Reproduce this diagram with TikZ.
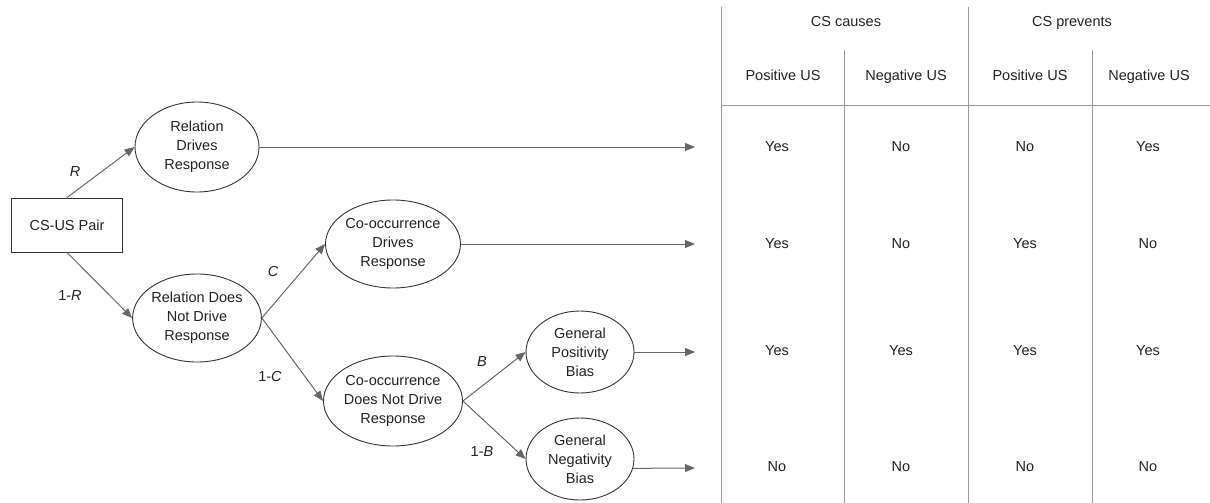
\documentclass[tikz,border=0pt]{standalone}
\usepackage{fontspec}
\setmainfont{Liberation Sans}
\usetikzlibrary{shapes.geometric,arrows.meta}
\definecolor{edgegray}{HTML}{666666}
\definecolor{rimgray}{HTML}{333333}
\definecolor{gridgray}{HTML}{999999}
\definecolor{inkgray}{HTML}{222222}
\newcommand{\txtsize}{\fontsize{14.5}{19}\selectfont}
\tikzset{
    state/.style={ellipse, draw=rimgray, line width=0.9pt, inner sep=0pt,
        align=center, text=inkgray},
    branch/.style={edgegray, line width=1pt, -{Triangle[length=10pt,width=8pt]}},
    prob/.style={text=inkgray, font=\txtsize\itshape},
    cell/.style={text=inkgray, text height=11pt, text depth=3pt}
}
\begin{document}
\begin{tikzpicture}[x=1pt, y=-1pt, font=\txtsize]
    \useasboundingbox (0,0) rectangle (1210,503);
    % tree
    \node[draw=rimgray, line width=0.9pt, minimum width=111pt, minimum height=54pt,
        inner sep=0pt, text=inkgray] (pair) at (67,225) {CS-US Pair};
    \node[state, minimum width=124pt, minimum height=90pt] (rdr) at (197,147)
        {Relation\\Drives\\Response};
    \node[state, minimum width=125pt, minimum height=88pt] (rdnd) at (197,318)
        {Relation Does\\Not Drive\\Response};
    \node[state, minimum width=135pt, minimum height=88pt] (cdr) at (393,244)
        {Co-occurrence\\Drives\\Response};
    \node[state, minimum width=135pt, minimum height=90pt] (cdnd) at (393,401)
        {Co-occurrence\\Does Not Drive\\Response};
    \node[state, minimum width=108pt, minimum height=82pt] (gpb) at (580,352)
        {General\\Positivity\\Bias};
    \node[state, minimum width=108pt, minimum height=82pt] (gnb) at (580,459)
        {General\\Negativity\\Bias};
    % arrow ends at the table
    \coordinate (e1) at (695,147);
    \coordinate (e2) at (695,244);
    \coordinate (e3) at (695,352);
    \coordinate (e4) at (695,468);
    \draw[branch] (pair.north) -- (rdr.west);
    \draw[branch] (pair.south) -- (rdnd.west);
    \draw[branch] (rdnd.east) -- (cdr.west);
    \draw[branch] (rdnd.east) -- (cdnd.west);
    \draw[branch] (cdnd.east) -- (gpb.west);
    \draw[branch] (cdnd.east) -- (gnb.west);
    \draw[branch] (rdr.east) -- (e1);
    \draw[branch] (cdr.east) -- (e2);
    \draw[branch] (gpb.east) -- (e3);
    \draw[branch] (gnb.-10) -- (e4);
    \node[prob] (lr) at (75,172) {R};
    \node[prob] (lnr) at (70,296) {\upshape 1-\itshape R};
    \node[prob] (lc) at (273,272) {C};
    \node[prob] (lnc) at (270,377) {\upshape 1-\itshape C};
    \node[prob] (lb) at (482,362) {B};
    \node[prob] (lnb) at (482,452) {\upshape 1-\itshape B};
    % table
    \draw[gridgray, line width=1pt] (721,7) -- (721,503);
    \draw[gridgray, line width=1pt] (968,7) -- (968,503);
    \draw[gridgray, line width=1pt] (844,50) -- (844,503);
    \draw[gridgray, line width=1pt] (1092,50) -- (1092,503);
    \draw[gridgray, line width=1pt] (721,105) -- (1210,105);
    \node[cell] (hc) at (846,23) {CS causes};
    \node[cell] (hp) at (1072,23) {CS prevents};
    \foreach \x/\t in {783/Positive US, 906/Negative US, 1030/Positive US, 1149/Negative US}
        \node[cell] at (\x,77) {\t};
    \foreach \y/\a/\b/\c/\d in {147/Yes/No/No/Yes, 244/Yes/No/Yes/No,
            351/Yes/Yes/Yes/Yes, 467/No/No/No/No} {
        \node[cell] at (777,\y) {\a};
        \node[cell] at (901,\y) {\b};
        \node[cell] at (1025,\y) {\c};
        \node[cell] at (1148,\y) {\d};
    }
\end{tikzpicture}
\end{document}
